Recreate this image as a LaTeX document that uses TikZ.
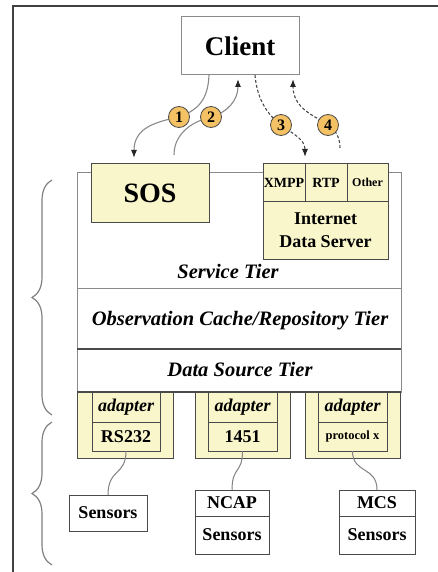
\documentclass[tikz,border=0pt]{standalone}
\usepackage{fontspec}
\setmainfont{Liberation Serif}
\usetikzlibrary{arrows.meta,decorations.pathreplacing}
\definecolor{cream}{HTML}{FAF6CC}
\definecolor{lgray}{HTML}{8A8A8A}
\definecolor{dgray}{HTML}{4A4A4A}
\definecolor{numfill}{HTML}{F4C264}
\begin{document}
\begin{tikzpicture}[x=1pt,y=-1pt,
  box/.style={draw=lgray, line width=1pt, fill=white, inner sep=0pt, outer sep=0pt},
  ybox/.style={draw=dgray, line width=1pt, fill=cream, inner sep=0pt, outer sep=0pt},
  num/.style={circle, draw=dgray, fill=numfill, line width=0.8pt, minimum size=21pt, inner sep=0pt, font=\bfseries\fontsize{16}{16}\selectfont},
  link/.style={draw=lgray, line width=1.1pt, -{Latex[length=8pt,width=6pt,color=black!85]}},
  dlink/.style={link, draw=dgray, dash pattern=on 3pt off 2pt},
  wire/.style={draw=gray, line width=1pt},
  tierbrace/.style={draw=gray, line width=1.2pt, decorate, decoration={brace, amplitude=20pt}},
  tiertext/.style={font=\bfseries\itshape\fontsize{20.5}{20.5}\selectfont, inner sep=0pt},
  bold/.style={font=\bfseries\fontsize{18}{18}\selectfont},
  adtext/.style={font=\bfseries\itshape\fontsize{18}{18}\selectfont}
]
\useasboundingbox (0,0) rectangle (438,572);
% frame
\draw[draw=black!75, line width=1.2pt] (13,572) -- (13,6) -- (438,6);

% client
\node[box, minimum width=118pt, minimum height=58pt, font=\bfseries\fontsize{27}{27}\selectfont] (client) at (240,46) {Client};

% tiers
\node[box, minimum width=324pt, minimum height=116pt] (service) at (239,230) {};
\node[box, minimum width=324pt, minimum height=61pt] (obs) at (239,318.5) {};
\node[box, minimum width=324pt, minimum height=43pt] (data) at (239,370.5) {};
\draw[dgray, line width=1.6pt] (obs.south west) -- (obs.south east);
\node[tiertext] (servicelbl) at (228,271) {Service Tier};
\node[tiertext] (obslbl) at (240,321) {Observation Cache/Repository Tier};
\node[tiertext] (datalbl) at (240,370) {Data Source Tier};

% SOS
\node[ybox, minimum width=118pt, minimum height=58pt, font=\bfseries\fontsize{28}{28}\selectfont] (sos) at (150,193) {SOS};

% Internet data server
\node[ybox, minimum width=125pt, minimum height=58pt, align=center, font=\bfseries\fontsize{18}{23}\selectfont] (ids) at (325.5,230) {Internet\\Data Server};
\node[ybox, minimum width=42pt, minimum height=37pt, font=\bfseries\fontsize{14}{14}\selectfont] (xmpp) at (284,182.5) {XMPP};
\node[ybox, minimum width=42pt, minimum height=37pt, font=\bfseries\fontsize{14}{14}\selectfont] (rtp) at (326,182.5) {RTP};
\node[ybox, minimum width=41pt, minimum height=37pt, font=\bfseries\fontsize{12}{12}\selectfont] (other) at (367.5,182.5) {Other};

% adapters
\node[ybox, minimum width=96pt, minimum height=66pt] (a1) at (125,425) {};
\node[ybox, minimum width=68pt, minimum height=30pt, adtext] (a1t) at (126,407) {adapter};
\node[ybox, minimum width=68pt, minimum height=29pt, bold] (a1b) at (126,436.5) {RS232};
\node[ybox, minimum width=95pt, minimum height=66pt] (a2) at (242.5,425) {};
\node[ybox, minimum width=69pt, minimum height=30pt, adtext] (a2t) at (242.5,407) {adapter};
\node[ybox, minimum width=69pt, minimum height=29pt, bold] (a2b) at (242.5,436.5) {1451};
\node[ybox, minimum width=95pt, minimum height=66pt] (a3) at (352.5,425) {};
\node[ybox, minimum width=69pt, minimum height=30pt, adtext] (a3t) at (352.5,407) {adapter};
\node[ybox, minimum width=69pt, minimum height=29pt, font=\bfseries\fontsize{12.5}{12.5}\selectfont] (a3b) at (352.5,436.5) {protocol x};
\draw[dgray, line width=1.8pt] (data.south west) -- (data.south east);

% sensors
\node[box, draw=dgray, minimum width=78pt, minimum height=36pt, bold] (s1) at (108,513) {Sensors};
\node[box, draw=dgray, minimum width=74pt, minimum height=26pt, bold] (ncap) at (232,503) {NCAP};
\node[box, draw=dgray, minimum width=74pt, minimum height=38pt, bold] (s2) at (232,535) {Sensors};
\node[box, draw=dgray, minimum width=76pt, minimum height=26pt, bold] (mcs) at (377,503) {MCS};
\node[box, draw=dgray, minimum width=76pt, minimum height=38pt, bold] (s3) at (377,535) {Sensors};

\draw[wire] (a1b.south) .. controls (126,476) and (108,468) .. (s1.north);
\draw[wire] (a2b.south) .. controls (242.5,474) and (232,466) .. (ncap.north);
\draw[wire] (a3b.south) .. controls (352.5,474) and (377,466) .. (mcs.north);

% braces
\draw[tierbrace] (52,415) -- (52,180);
\draw[tierbrace] (52,565) -- (52,422);

% marker positions
\coordinate (c1p) at (179,117);
\coordinate (c2p) at (211,117);
\coordinate (c3p) at (281,125);
\coordinate (c4p) at (328,125);
\coordinate (f4) at (340,148);

% arrows
\draw[link] ([xshift=-31pt]client.south) .. controls (208,100) and (198,110) .. (c1p) .. controls (155,122) and (134,128) .. ([xshift=-16pt,yshift=6pt]sos.north);
\draw[link] ([xshift=24pt,yshift=9pt]sos.north) .. controls (174,135) and (190,122) .. (c2p) .. controls (228,112) and (238,100) .. ([xshift=-2pt,yshift=-4pt]client.south);
\draw[dlink] ([xshift=15pt]client.south) .. controls (257,100) and (268,115) .. (c3p) .. controls (295,135) and (305,140) .. ([yshift=7pt]xmpp.north east);
\draw[dlink] (f4) .. controls (340,138) and (336,130) .. (c4p) .. controls (318,117) and (293,110) .. ([xshift=53pt,yshift=-4pt]client.south);

\node[num] (c1) at (c1p) {1};
\node[num] (c2) at (c2p) {2};
\node[num] (c3) at (c3p) {3};
\node[num] (c4) at (c4p) {4};
\end{tikzpicture}
\end{document}
